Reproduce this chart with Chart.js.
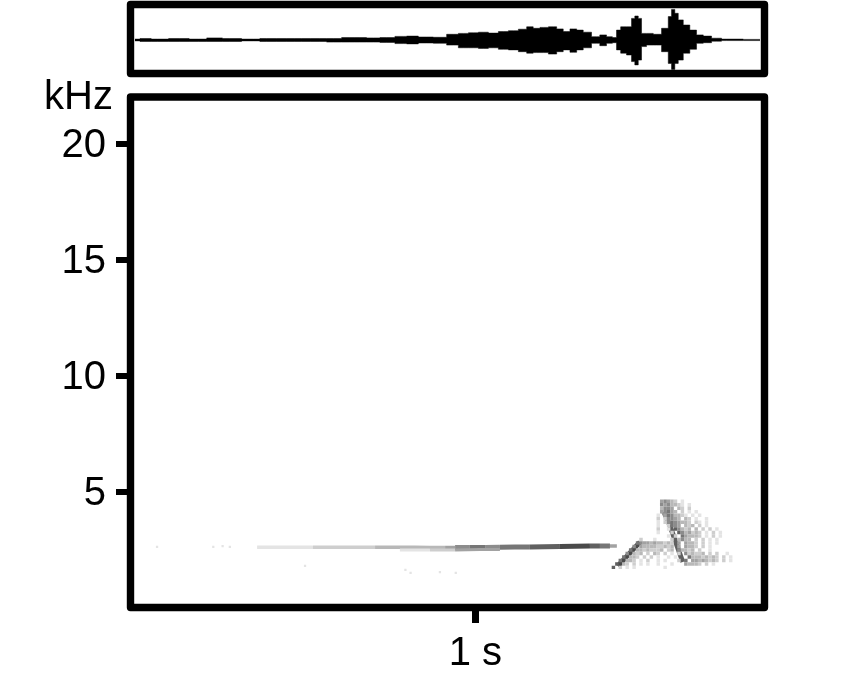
<!DOCTYPE html>
<html>
<head>
<meta charset="utf-8">
<title>Waveform and spectrogram</title>
<script src="https://cdn.jsdelivr.net/npm/chart.js@4/dist/chart.umd.min.js"></script>
<style>
    html, body { margin: 0; padding: 0; background: #fff; overflow: hidden; }
    canvas { position: absolute; left: 0; top: 0; }
    #unit { position: absolute; left: 44px; top: 73px; font: 40px "Liberation Sans", Arial, sans-serif; color: #000; }
</style>
</head>
<body>
<canvas id="spectrogram" width="845" height="688"></canvas>
<canvas id="waveform" width="845" height="90"></canvas>
<div id="unit">kHz</div>
<script>
// Axis labels
const freqTicks = [5, 10, 15, 20];
const timeTicks = [1];
const timeLabels = ['1 s'];

// Waveform envelope (seconds, relative amplitude)
const waveTimes = [0.013, 0.042, 0.078, 0.143, 0.197, 0.245, 0.288, 0.356, 0.394, 0.453, 0.496, 0.549, 0.588, 0.636, 0.665, 0.704, 0.742, 0.791, 0.810, 0.859,
    0.897, 0.936, 0.965, 0.994, 1.023, 1.052, 1.081, 1.110, 1.139, 1.158, 1.177, 1.197, 1.226, 1.245, 1.264, 1.284, 1.303, 1.322, 1.351, 1.370, 1.390, 1.404,
    1.414, 1.428, 1.448, 1.457, 1.467, 1.477, 1.486, 1.506, 1.525, 1.554, 1.564, 1.573, 1.583, 1.593, 1.612, 1.631, 1.651, 1.670, 1.699, 1.728, 1.825];
const waveUpper = [0.03, 0.05, 0.03, 0.05, 0.03, 0.07, 0.05, 0.03, 0.05, 0.05, 0.05, 0.05, 0.05, 0.08, 0.08, 0.07, 0.08, 0.12, 0.13, 0.10,
    0.09, 0.19, 0.22, 0.24, 0.26, 0.23, 0.28, 0.31, 0.36, 0.44, 0.39, 0.42, 0.44, 0.37, 0.28, 0.37, 0.33, 0.26, 0.11, 0.17, 0.11, 0.08,
    0.33, 0.44, 0.44, 0.72, 0.80, 0.72, 0.22, 0.22, 0.19, 0.39, 0.78, 1.02, 0.89, 0.67, 0.50, 0.33, 0.17, 0.13, 0.06, 0.03, 0.02];
const waveLower = [-0.03, -0.05, -0.05, -0.05, -0.05, -0.05, -0.05, -0.03, -0.05, -0.05, -0.05, -0.05, -0.07, -0.07, -0.07, -0.07, -0.08, -0.12, -0.13, -0.10,
    -0.11, -0.17, -0.26, -0.26, -0.28, -0.26, -0.31, -0.33, -0.39, -0.44, -0.42, -0.42, -0.47, -0.39, -0.33, -0.41, -0.33, -0.26, -0.11, -0.19, -0.11, -0.09,
    -0.33, -0.44, -0.50, -0.72, -0.83, -0.67, -0.22, -0.17, -0.17, -0.39, -0.78, -0.98, -0.78, -0.67, -0.44, -0.31, -0.11, -0.09, -0.04, -0.02, -0.02];

// Long tone in the spectrogram (seconds, kHz, darkness 1-9)
const toneTimes = [0.367, 0.404, 0.448, 0.491, 0.529, 0.564, 0.622, 0.665, 0.709, 0.752, 0.781, 0.825, 0.868, 0.912, 0.941, 0.984, 1.028, 1.071, 1.114, 1.158,
    1.201, 1.245, 1.288, 1.332, 1.361, 1.390, 1.410];
const toneFreqs = [2.62, 2.62, 2.62, 2.62, 2.62, 2.62, 2.62, 2.62, 2.62, 2.62, 2.62, 2.62, 2.61, 2.61, 2.61, 2.61, 2.61, 2.62, 2.63, 2.63,
    2.64, 2.65, 2.66, 2.67, 2.67, 2.67, 2.67];
const toneLevels = [1, 1, 1, 1, 2, 2, 2, 2, 3, 3, 3, 3, 3, 4, 5, 6, 5, 6, 6, 7, 7, 8, 8, 7, 6, 4, 3];

// Weaker strand just under the tone
const strandTimes = [0.781, 0.868, 0.941, 1.013, 1.071];
const strandFreqs = [2.5, 2.5, 2.5, 2.52, 2.52];
const strandLevels = [1, 2, 4, 4, 3];

// Isolated faint specks
const faintTimes = [0.077, 0.240, 0.267, 0.288, 0.506, 0.797, 0.812, 0.897, 0.943];
const faintFreqs = [2.63, 2.63, 2.67, 2.63, 1.81, 1.64, 1.51, 1.55, 1.51];

// The two dark strokes at the end of the call
const riseTimes = [1.413, 1.477];
const riseFreqs = [1.81, 2.84];
const riseLevels = [8];
const fallTimes = [1.546, 1.563, 1.601];
const fallFreqs = [4.14, 3.58, 1.98];
const fallLevels = [5, 7];

// End-of-call cells, one string per frequency row, one digit per time column
const cellTimes = [1.40, 1.41, 1.42, 1.43, 1.44, 1.45, 1.46, 1.47, 1.48, 1.49, 1.50, 1.51, 1.52, 1.53, 1.54, 1.55, 1.56, 1.57, 1.58,
    1.59, 1.60, 1.61, 1.62, 1.63, 1.64, 1.65, 1.66, 1.67, 1.68, 1.69, 1.70, 1.71, 1.72, 1.73, 1.74, 1.75, 1.76];
const cellFreqs = [4.6, 4.45, 4.3, 4.15, 4.0, 3.85, 3.7, 3.55, 3.4, 3.25, 3.1, 2.95, 2.8, 2.65, 2.5, 2.35, 2.2, 2.05, 1.9, 1.75];
const cellLevels = [
    '..............45432.1',
    '..............5453321.1',
    '..............3554.32.2',
    '..............45643.2.1.1',
    '.............1.4653321.1.1',
    '.............2.25543.32.1..1',
    '.............1.2.654332.21.1',
    '.............1..2654.323.2.1',
    '.............2..1.75323.3.2.2.1',
    '.............1...2.7534232.1.2.1',
    '................1.2.643332.1.2.1',
    '........2...1....2.3533.2.2.1.1',
    '.......65443433232.4.4332.2.1.1',
    '......5.4333322323.4.4332.2.1',
    '.....6.33232223.23.53323.2..1',
    '....5.323.2.32.2.1.2.523223.2.2..1',
    '...6.332.2.2.1..1.1...633323232.2.1',
    '..6.332.1.2..1.1...2.6.44343232.2.1',
    '.7.32.2.1.1..1...1...43332.2.1',
    '7.2.1.1........1'
];

function grey(level) {
    const v = 250 - 22 * level;
    return `rgb(${v},${v},${v})`;
}

function toPoints(xs, ys) {
    return xs.map((x, i) => ({ x: x, y: ys[i] }));
}

// Heavy rounded frame around a plot area
const framePlugin = {
    id: 'frame',
    afterDraw(chart) {
        const { ctx, chartArea: a } = chart;
        ctx.save();
        ctx.strokeStyle = '#000';
        ctx.lineWidth = 7.4;
        ctx.lineJoin = 'round';
        ctx.strokeRect(a.left, a.top, a.right - a.left, a.bottom - a.top);
        ctx.restore();
    }
};

const timeMax = 1.838;

function createWaveform() {
    new Chart(document.getElementById('waveform'), {
        type: 'scatter',
        data: {
            datasets: [
                { data: toPoints(waveTimes, waveUpper), showLine: true, stepped: 'middle', borderColor: '#000', borderWidth: 0.5, pointRadius: 0, backgroundColor: '#000', fill: '+1' },
                { data: toPoints(waveTimes, waveLower), showLine: true, stepped: 'middle', borderColor: '#000', borderWidth: 0.5, pointRadius: 0, backgroundColor: '#000' }
            ]
        },
        options: {
            responsive: false,
            animation: false,
            layout: { padding: { left: 130.5, right: 80.5, top: 4.5, bottom: 16.5 } },
            plugins: { legend: { display: false }, tooltip: { enabled: false } },
            scales: {
                x: { display: false, min: 0, max: timeMax },
                y: { display: false, min: -1.117, max: 1.183 }
            }
        },
        plugins: [framePlugin]
    });
}

function strokeDataset(xs, ys, levels, width) {
    return {
        data: toPoints(xs, ys),
        showLine: true,
        borderWidth: width,
        pointRadius: 0,
        segment: { borderColor: c => grey(levels[c.p0DataIndex]) }
    };
}

function createSpectrogram() {
    const cells = [];
    const cellColors = [];
    cellLevels.forEach((row, r) => {
        [...row].forEach((c, col) => {
            if (c === '.') return;
            cells.push({ x: cellTimes[col], y: cellFreqs[r] });
            cellColors.push(grey(+c));
        });
    });

    const tone = strokeDataset(toneTimes, toneFreqs, toneLevels, 3.5);
    // the dark end of the tone is thicker than the faint start
    tone.segment.borderWidth = c => (toneLevels[c.p0DataIndex] >= 5 ? 5 : 3.5);

    new Chart(document.getElementById('spectrogram'), {
        type: 'scatter',
        data: {
            datasets: [
                {
                    data: toPoints(faintTimes, faintFreqs),
                    pointStyle: 'rect', pointRadius: 1.6, pointBorderWidth: 0, pointBackgroundColor: grey(1)
                },
                strokeDataset(strandTimes, strandFreqs, strandLevels, 3),
                tone,
                {
                    data: cells,
                    pointStyle: 'rect', pointRadius: 2.45, pointBorderWidth: 0, pointBackgroundColor: cellColors
                },
                strokeDataset(riseTimes, riseFreqs, riseLevels, 5),
                strokeDataset(fallTimes, fallFreqs, fallLevels, 5)
            ]
        },
        options: {
            responsive: false,
            animation: false,
            layout: { padding: { top: 97, right: 80.5 } },
            plugins: { legend: { display: false }, tooltip: { enabled: false } },
            scales: {
                x: {
                    min: 0,
                    max: timeMax,
                    afterBuildTicks: s => { s.ticks = timeTicks.map(v => ({ value: v })); },
                    afterFit: s => { s.height = 80.5; },
                    grid: { drawOnChartArea: false, color: '#000', lineWidth: 7, tickLength: 15.5 },
                    border: { display: false },
                    ticks: {
                        color: '#000',
                        maxRotation: 0,
                        padding: 7,
                        font: { family: '"Liberation Sans", Arial, sans-serif', size: 40 },
                        callback: (v) => timeLabels[timeTicks.indexOf(v)]
                    }
                },
                y: {
                    min: 0.02,
                    max: 22.03,
                    afterBuildTicks: s => { s.ticks = freqTicks.map(v => ({ value: v })); },
                    afterFit: s => { s.width = 130.5; },
                    grid: { drawOnChartArea: false, color: '#000', lineWidth: 6, tickLength: 14.5 },
                    border: { display: false },
                    ticks: {
                        color: '#000',
                        padding: 10,
                        // empty first line plus a tiny line height nudges the digits 2px down
                        font: { family: '"Liberation Sans", Arial, sans-serif', size: 40, lineHeight: 0.1 },
                        callback: (v) => ['', String(v)]
                    }
                }
            }
        },
        plugins: [framePlugin]
    });
}

createSpectrogram();
createWaveform();
</script>
</body>
</html>
